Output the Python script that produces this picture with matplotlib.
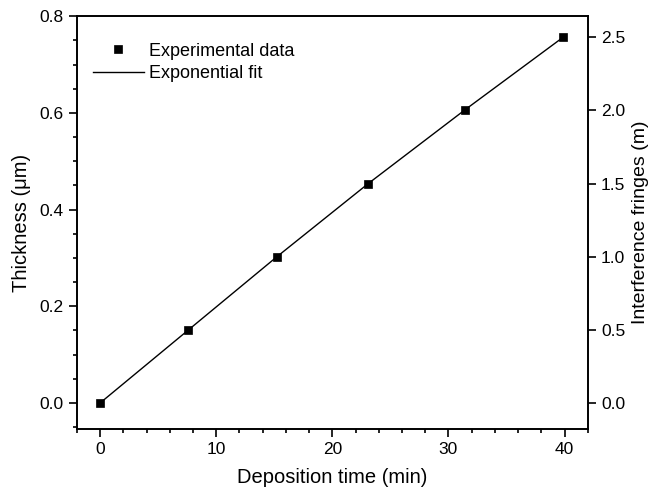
import numpy as np
import matplotlib
matplotlib.use("Agg")
import matplotlib.pyplot as plt
from matplotlib.ticker import MultipleLocator

plt.rcParams['font.family'] = ['Liberation Sans', 'DejaVu Sans']

# data
tid = [0.0, 7.6, 15.2, 23.1, 31.4, 39.9]               # deposition time (min)
tykkelse = [0.0, 0.151, 0.302, 0.454, 0.606, 0.757]    # thickness (um)
frynser = [0.0, 0.5, 1.0, 1.5, 2.0, 2.5]               # interference fringes (m)

fig = plt.figure(figsize=(6.51, 4.91), dpi=100)
ax = fig.add_axes([0.118, 0.126, 0.785, 0.841])

ax.plot(tid, tykkelse, color='black', lw=1.0, label='Exponential fit')
ax.plot(tid, tykkelse, 's', color='black', ms=6, mew=0.5, label='Experimental data')

ax.set_xlim(-2, 42)
ax.set_ylim(-0.054, 0.8)
ax.xaxis.set_major_locator(MultipleLocator(10))
ax.xaxis.set_minor_locator(MultipleLocator(2))
ax.yaxis.set_major_locator(MultipleLocator(0.2))
ax.yaxis.set_minor_locator(MultipleLocator(0.05))
ax.yaxis.set_major_formatter(matplotlib.ticker.FormatStrFormatter('%.1f'))
ax.tick_params(which='major', direction='out', length=6, width=1.2, labelsize=12.5)
ax.tick_params(which='minor', direction='out', length=3, width=1.2)
ax.tick_params(right=False, top=False, which='both')
ax.set_xlabel('Deposition time (min)', fontsize=14.5, labelpad=8)
ax.set_ylabel('Thickness (μm)', fontsize=14.5, labelpad=6)
for s in ax.spines.values():
    s.set_linewidth(1.2)

ax2 = ax.twinx()
ax2.set_ylim(-0.178, 2.643)
ax2.yaxis.set_major_locator(MultipleLocator(0.5))
ax2.yaxis.set_major_formatter(matplotlib.ticker.FormatStrFormatter('%.1f'))
ax2.tick_params(direction='out', length=6, width=1.2, labelsize=12.5)
ax2.set_ylabel('Interference fringes (m)', fontsize=14, labelpad=5)
for s in ax2.spines.values():
    s.set_linewidth(1.2)

h, l = ax.get_legend_handles_labels()
ax.legend(h[::-1], l[::-1], loc='upper left', bbox_to_anchor=(0.0, 0.975),
          frameon=False, fontsize=13, handlelength=2.8, labelspacing=0.3,
          handletextpad=0.3)

fig.savefig('out.png', dpi=100)
